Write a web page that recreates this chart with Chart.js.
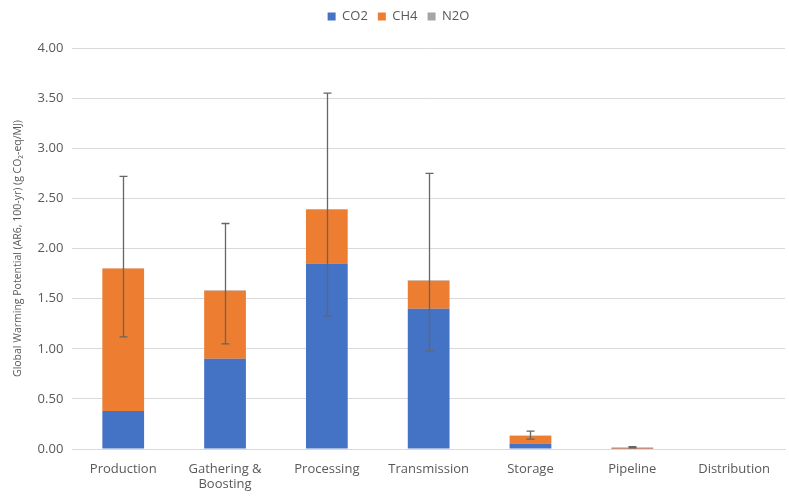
<!DOCTYPE html>
<html>
<head>
<meta charset="utf-8">
<script src="https://cdn.jsdelivr.net/npm/chart.js@4.4.1/dist/chart.umd.min.js"></script>
<style>
  html, body { margin: 0; padding: 0; background: #ffffff; }
  #wrap { width: 789px; height: 497px; position: relative; }
</style>
</head>
<body>
<div id="wrap"><canvas id="chart"></canvas></div>
<script>
// Life-cycle stages of the natural gas supply chain
const stages = ['Production', ['Gathering &', 'Boosting'], 'Processing', 'Transmission', 'Storage', 'Pipeline', 'Distribution'];

// Global warming potential by gas (g CO2-eq/MJ)
const co2 = [0.38, 0.90, 1.85, 1.40, 0.055, 0.004, 0];
const ch4 = [1.42, 0.68, 0.54, 0.28, 0.078, 0.012, 0];
const n2o = [0.004, 0.004, 0.004, 0.004, 0.002, 0.001, 0];

// Uncertainty range of the total
const errLow  = [1.12, 1.05, 1.33, 0.98, 0.10, 0.012, null];
const errHigh = [2.72, 2.25, 3.55, 2.75, 0.18, 0.025, null];

const yTicks = [0, 0.5, 1, 1.5, 2, 2.5, 3, 3.5, 4];

const FONT = '"Open Sans", "Liberation Sans", sans-serif';
const TEXT = '#595959';

const errorBars = {
  id: 'errorBars',
  afterDatasetsDraw(chart) {
    const { ctx, scales: { x, y } } = chart;
    ctx.save();
    ctx.strokeStyle = '#666666';
    ctx.lineWidth = 1.3;
    for (let i = 0; i < stages.length; i++) {
      if (errLow[i] == null) continue;
      const cx = Math.round(x.getPixelForValue(i)) + 0.5;
      const y1 = y.getPixelForValue(errLow[i]);
      const y2 = y.getPixelForValue(errHigh[i]);
      const cap = 4;
      ctx.beginPath();
      ctx.moveTo(cx, y1); ctx.lineTo(cx, y2);
      ctx.moveTo(cx - cap, y1); ctx.lineTo(cx + cap, y1);
      ctx.moveTo(cx - cap, y2); ctx.lineTo(cx + cap, y2);
      ctx.stroke();
    }
    ctx.restore();
  }
};

// extra space between the legend and the plot
const legendGap = {
  id: 'legendGap',
  beforeInit(chart) {
    const fit = chart.legend.fit;
    chart.legend.fit = function () {
      fit.call(this);
      this.height += 15;
    };
  }
};

new Chart(document.getElementById('chart'), {
  type: 'bar',
  data: {
    labels: stages,
    datasets: [
      { label: 'CO2', data: co2, backgroundColor: '#4472C4' },
      { label: 'CH4', data: ch4, backgroundColor: '#ED7D31' },
      { label: 'N2O', data: n2o, backgroundColor: '#A5A5A5' }
    ]
  },
  options: {
    responsive: true,
    maintainAspectRatio: false,
    animation: false,
    datasets: { bar: { categoryPercentage: 1, barPercentage: 0.41, borderWidth: 0 } },
    layout: { padding: { top: 0, right: 4, bottom: 0, left: 12 } },
    plugins: {
      legend: {
        position: 'top',
        labels: {
          boxWidth: 8, boxHeight: 8, padding: 10,
          color: TEXT, font: { family: FONT, size: 13 }
        }
      },
      tooltip: { enabled: false }
    },
    scales: {
      x: {
        stacked: true,
        grid: { display: false },
        border: { color: '#d9d9d9' },
        ticks: { color: TEXT, font: { family: FONT, size: 13, lineHeight: 1.15 }, maxRotation: 0, padding: 5 }
      },
      y: {
        stacked: true,
        min: 0, max: 4,
        afterBuildTicks(axis) { axis.ticks = yTicks.map(v => ({ value: v })); },
        grid: { color: '#d9d9d9', drawTicks: false },
        border: { display: false },
        ticks: {
          color: TEXT, font: { family: FONT, size: 13 }, padding: 9,
          callback: v => Number(v).toFixed(2)
        },
        title: {
          display: true,
          text: 'Global Warming Potential (AR6, 100-yr) (g CO₂-eq/MJ)',
          color: TEXT, font: { family: FONT, size: 10.5 }, padding: { top: 0, bottom: 4 }
        }
      }
    }
  },
  plugins: [errorBars, legendGap]
});
</script>
</body>
</html>
